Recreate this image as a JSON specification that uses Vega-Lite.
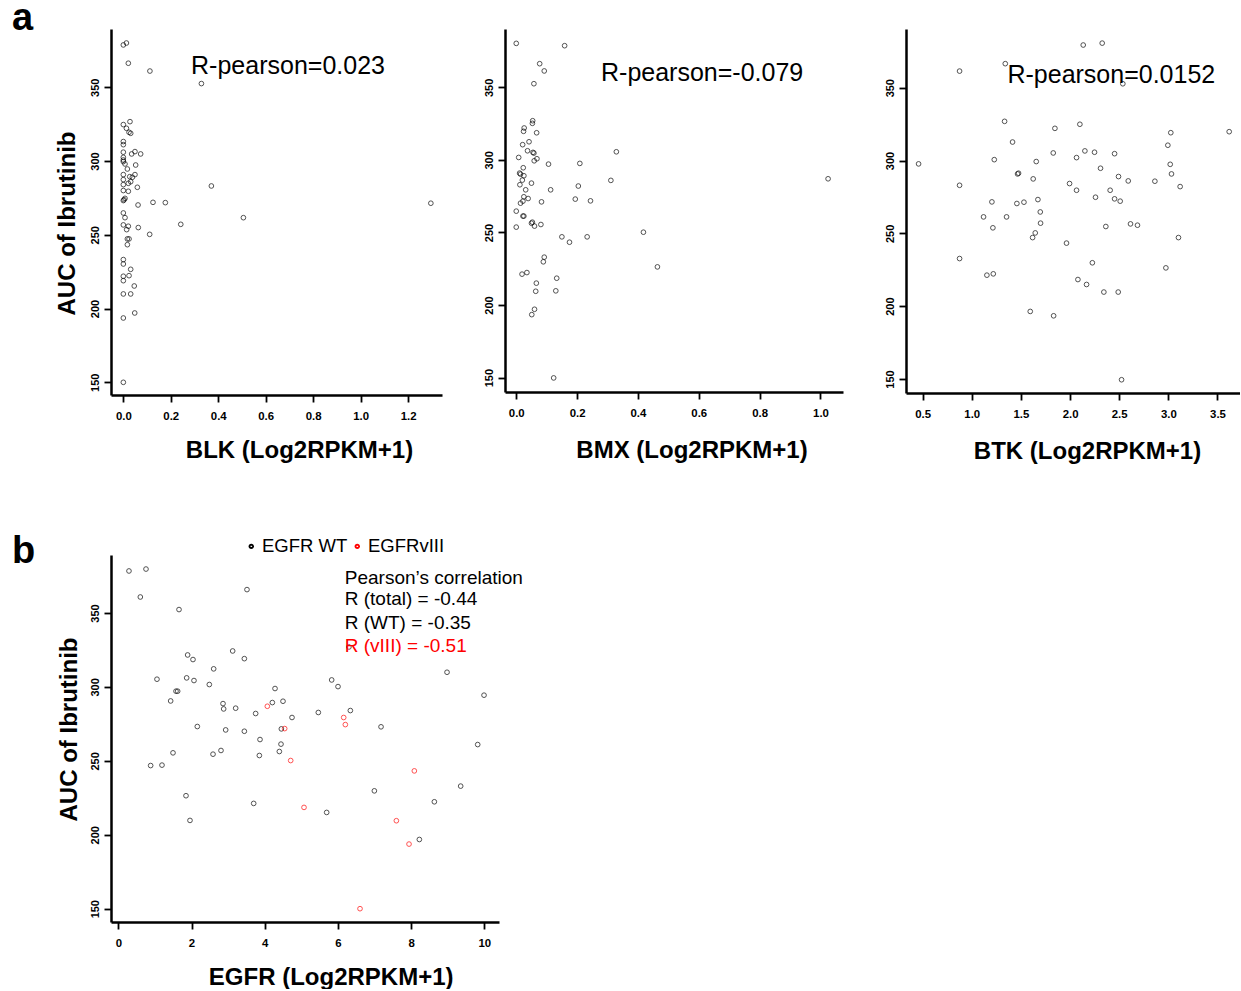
{
  "$schema": "https://vega.github.io/schema/vega-lite/v6.json",
  "background": "white",
  "padding": {"left": 12, "top": 0, "right": 0, "bottom": 0},
  "config": {
    "view": {"stroke": null},
    "font": "Liberation Sans",
    "axis": {
      "grid": false,
      "domainColor": "black",
      "domainWidth": 2.5,
      "tickColor": "black",
      "tickWidth": 1.8,
      "tickSize": 7,
      "labelFont": "Liberation Sans",
      "labelFontSize": 11,
      "labelFontWeight": "bold",
      "labelColor": "black",
      "titleFont": "Liberation Sans",
      "titleFontWeight": "bold",
      "titleColor": "black",
      "titleFontSize": 24
    },
    "axisX": {"labelFont": "Liberation Sans Narrow, Liberation Sans", "labelFontSize": 11.4, "labelPadding": 8, "titleBaseline": "alphabetic", "titleAlign": "center"},
    "axisY": {"labelAngle": -90, "labelPadding": 4, "titleBaseline": "alphabetic", "titleAlign": "center", "titleAngle": 270},
    "title": {"font": "Liberation Sans", "fontSize": 38, "fontWeight": "bold", "color": "black", "anchor": "start", "frame": "group", "baseline": "alphabetic", "offset": 0}
  },
  "datasets": {
    "blk": [
      {"x":0,"y":378.7},{"x":0.013,"y":380},{"x":0.021,"y":366.3},{"x":0.112,"y":361},{"x":0.329,"y":352.5},
      {"x":0,"y":324.7},{"x":0.028,"y":326.7},{"x":0.013,"y":322.2},{"x":0.024,"y":319.5},{"x":0.031,"y":318.8},
      {"x":0,"y":313.2},{"x":0,"y":311.1},{"x":0,"y":306},{"x":0.049,"y":306.4},{"x":0.073,"y":304.8},
      {"x":0.035,"y":304.8},{"x":0,"y":302.5},{"x":0,"y":300.7},{"x":0,"y":299.6},{"x":0.007,"y":298},
      {"x":0.052,"y":297.3},{"x":0.017,"y":294.6},{"x":0,"y":290.8},{"x":0.049,"y":290.8},{"x":0.027,"y":289.4},
      {"x":0.038,"y":289},{"x":0,"y":287.4},{"x":0.031,"y":286},{"x":0.021,"y":284.9},{"x":0,"y":284},
      {"x":0.059,"y":282.2},{"x":0.371,"y":283.1},{"x":0,"y":280},{"x":0.021,"y":279.5},{"x":0.003,"y":273.8},
      {"x":0.007,"y":274.7},{"x":0,"y":273.2},{"x":0.125,"y":272},{"x":0.177,"y":271.8},{"x":1.296,"y":271.4},
      {"x":0.062,"y":270.2},{"x":0,"y":264.8},{"x":0.007,"y":261.6},{"x":0.506,"y":261.6},{"x":0,"y":256.7},
      {"x":0.021,"y":255.8},{"x":0.014,"y":253.5},{"x":0.063,"y":254.9},{"x":0.242,"y":257.1},{"x":0.017,"y":247.2},
      {"x":0.024,"y":247.2},{"x":0.111,"y":250.3},{"x":0.017,"y":243.3},{"x":0,"y":233.2},{"x":0,"y":230.2},
      {"x":0.031,"y":226.6},{"x":0.024,"y":222.3},{"x":0,"y":221.9},{"x":0,"y":218.9},{"x":0.046,"y":215.3},
      {"x":0,"y":209.9},{"x":0.031,"y":209.9},{"x":0.048,"y":197},{"x":0,"y":193.6},{"x":0,"y":150}
    ],
    "bmx": [
      {"x":0,"y":380.3},{"x":0.159,"y":378.7},{"x":0.077,"y":366.3},{"x":0.092,"y":361.3},{"x":0.058,"y":352.5},
      {"x":0.054,"y":327},{"x":0.053,"y":325.2},{"x":0.026,"y":322},{"x":0.024,"y":319.7},{"x":0.067,"y":318.7},
      {"x":0.042,"y":312.5},{"x":0.021,"y":310.5},{"x":0.037,"y":306.3},{"x":0.055,"y":305.2},{"x":0.058,"y":304.7},
      {"x":0.329,"y":305.6},{"x":0.008,"y":301.7},{"x":0.068,"y":300.8},{"x":0.059,"y":299.4},{"x":0.106,"y":297.1},
      {"x":0.209,"y":297.6},{"x":0.023,"y":294.6},{"x":0.011,"y":290.9},{"x":0.014,"y":290.2},{"x":0.025,"y":289.1},
      {"x":0.02,"y":286.1},{"x":0.311,"y":285.9},{"x":1.025,"y":287},{"x":0.012,"y":282.9},{"x":0.05,"y":284},
      {"x":0.204,"y":282},{"x":0.031,"y":279.4},{"x":0.113,"y":279.4},{"x":0.039,"y":273.4},{"x":0.025,"y":274.6},
      {"x":0.194,"y":273},{"x":0.244,"y":271.8},{"x":0.022,"y":271.6},{"x":0.014,"y":270.2},{"x":0.083,"y":271.1},
      {"x":0,"y":264.7},{"x":0.022,"y":261.3},{"x":0.025,"y":261.3},{"x":0.053,"y":257.1},{"x":0.05,"y":256.4},
      {"x":0.06,"y":254.4},{"x":0.081,"y":255.5},{"x":0,"y":253.7},{"x":0.418,"y":250.2},{"x":0.15,"y":247},
      {"x":0.233,"y":247},{"x":0.175,"y":243.3},{"x":0.092,"y":233},{"x":0.089,"y":229.8},{"x":0.464,"y":226.3},
      {"x":0.035,"y":222.4},{"x":0.019,"y":221.3},{"x":0.066,"y":215.1},{"x":0.133,"y":218.5},{"x":0.064,"y":209.5},
      {"x":0.13,"y":209.8},{"x":0.06,"y":197.1},{"x":0.051,"y":193.4},{"x":0.123,"y":149.8}
    ],
    "btk": [
      {"x":0.459,"y":297.7},{"x":0.876,"y":361.4},{"x":0.876,"y":283},{"x":0.876,"y":232.7},{"x":1.341,"y":366.5},
      {"x":1.334,"y":326.9},{"x":1.415,"y":312.7},{"x":1.229,"y":300.6},{"x":1.466,"y":290.8},{"x":1.476,"y":291.3},
      {"x":1.205,"y":271.6},{"x":1.12,"y":261.3},{"x":1.354,"y":261.3},{"x":1.215,"y":253.8},{"x":1.154,"y":221.3},
      {"x":1.219,"y":222.2},{"x":1.459,"y":270.5},{"x":1.531,"y":271.4},{"x":1.625,"y":287.4},{"x":1.656,"y":299.3},
      {"x":1.673,"y":273.2},{"x":1.697,"y":264.7},{"x":1.7,"y":257},{"x":1.646,"y":250.3},{"x":1.619,"y":247.1},
      {"x":1.595,"y":196.4},{"x":1.846,"y":322.1},{"x":1.829,"y":305.2},{"x":1.833,"y":193.4},{"x":2.134,"y":379.3},
      {"x":2.327,"y":380.6},{"x":2.537,"y":352.7},{"x":2.1,"y":324.9},{"x":2.151,"y":306.6},{"x":2.249,"y":305.7},
      {"x":2.453,"y":304.7},{"x":2.066,"y":302},{"x":2.31,"y":294.7},{"x":2.493,"y":289},{"x":2.592,"y":286},
      {"x":1.995,"y":284.2},{"x":2.066,"y":279.6},{"x":2.408,"y":279.6},{"x":2.259,"y":274.8},{"x":2.453,"y":273.7},
      {"x":2.51,"y":272.1},{"x":1.964,"y":243.3},{"x":2.364,"y":254.7},{"x":2.615,"y":256.5},{"x":2.686,"y":255.6},
      {"x":2.227,"y":229.8},{"x":2.08,"y":218.3},{"x":2.168,"y":214.9},{"x":2.344,"y":209.7},{"x":2.49,"y":209.7},
      {"x":2.524,"y":149.5},{"x":2.863,"y":285.8},{"x":2.995,"y":310.5},{"x":3.025,"y":319.1},{"x":3.019,"y":297.4},
      {"x":3.032,"y":290.8},{"x":3.12,"y":282.1},{"x":3.103,"y":247.1},{"x":2.975,"y":226.3},{"x":3.619,"y":319.8}
    ],
    "egfr": [
      {"x":0.291,"y":378.4,"group":"EGFR WT"},{"x":0.756,"y":379.7,"group":"EGFR WT"},{"x":0.601,"y":360.8,"group":"EGFR WT"},
      {"x":1.658,"y":352.3,"group":"EGFR WT"},{"x":3.515,"y":365.8,"group":"EGFR WT"},{"x":3.124,"y":324.3,"group":"EGFR WT"},
      {"x":1.894,"y":321.6,"group":"EGFR WT"},{"x":2.04,"y":318.5,"group":"EGFR WT"},{"x":3.443,"y":319.1,"group":"EGFR WT"},
      {"x":2.605,"y":312.2,"group":"EGFR WT"},{"x":1.056,"y":305.2,"group":"EGFR WT"},{"x":1.867,"y":306.1,"group":"EGFR WT"},
      {"x":2.067,"y":304.3,"group":"EGFR WT"},{"x":2.486,"y":301.6,"group":"EGFR WT"},{"x":1.576,"y":297.1,"group":"EGFR WT"},
      {"x":1.621,"y":297.1,"group":"EGFR WT"},{"x":1.43,"y":290.5,"group":"EGFR WT"},{"x":4.281,"y":298.9,"group":"EGFR WT"},
      {"x":2.86,"y":288.7,"group":"EGFR WT"},{"x":2.878,"y":285.1,"group":"EGFR WT"},{"x":3.206,"y":285.6,"group":"EGFR WT"},
      {"x":4.208,"y":289.4,"group":"EGFR WT"},{"x":4.499,"y":290.3,"group":"EGFR WT"},{"x":3.752,"y":282,"group":"EGFR WT"},
      {"x":4.745,"y":279.3,"group":"EGFR WT"},{"x":2.158,"y":273.2,"group":"EGFR WT"},{"x":2.933,"y":270.9,"group":"EGFR WT"},
      {"x":3.443,"y":270,"group":"EGFR WT"},{"x":4.454,"y":271.6,"group":"EGFR WT"},{"x":3.871,"y":264.4,"group":"EGFR WT"},
      {"x":1.494,"y":255.4,"group":"EGFR WT"},{"x":2.587,"y":254.5,"group":"EGFR WT"},{"x":2.805,"y":257,"group":"EGFR WT"},
      {"x":3.853,"y":253.6,"group":"EGFR WT"},{"x":4.444,"y":261.3,"group":"EGFR WT"},{"x":4.399,"y":256.3,"group":"EGFR WT"},
      {"x":0.883,"y":246.8,"group":"EGFR WT"},{"x":1.193,"y":247.1,"group":"EGFR WT"},{"x":1.849,"y":226.4,"group":"EGFR WT"},
      {"x":1.958,"y":209.7,"group":"EGFR WT"},{"x":3.698,"y":221.2,"group":"EGFR WT"},{"x":5.464,"y":282.7,"group":"EGFR WT"},
      {"x":5.829,"y":304.7,"group":"EGFR WT"},{"x":6.002,"y":300.2,"group":"EGFR WT"},{"x":6.339,"y":284,"group":"EGFR WT"},
      {"x":5.692,"y":215.1,"group":"EGFR WT"},{"x":7.177,"y":273,"group":"EGFR WT"},{"x":6.995,"y":229.7,"group":"EGFR WT"},
      {"x":8.224,"y":196.8,"group":"EGFR WT"},{"x":8.634,"y":222.3,"group":"EGFR WT"},{"x":8.98,"y":309.9,"group":"EGFR WT"},
      {"x":9.353,"y":232.9,"group":"EGFR WT"},{"x":9.818,"y":261,"group":"EGFR WT"},{"x":9.991,"y":294.4,"group":"EGFR WT"},
      {"x":6.3,"y":327,"group":"EGFR WT"},
      {"x":4.071,"y":286.9,"group":"EGFRvIII"},{"x":4.545,"y":271.8,"group":"EGFRvIII"},{"x":4.709,"y":250.2,"group":"EGFRvIII"},
      {"x":5.073,"y":218.5,"group":"EGFRvIII"},{"x":6.157,"y":279.3,"group":"EGFRvIII"},{"x":6.202,"y":274.5,"group":"EGFRvIII"},
      {"x":8.087,"y":243.2,"group":"EGFRvIII"},{"x":7.596,"y":209.5,"group":"EGFRvIII"},{"x":7.942,"y":193.7,"group":"EGFRvIII"},
      {"x":6.603,"y":150,"group":"EGFRvIII"}
    ]
  },
  "bounds": "full",
  "spacing": 70,
  "resolve": {"scale": {"color": "independent"}, "legend": {"color": "independent"}},
  "vconcat": [
    {
      "bounds": "flush",
      "spacing": 63,
      "hconcat": [
        {
          "width": 331,
          "height": 366,
          "title": {"text": "a", "dx": -99, "dy": 13},
          "layer": [
            {
              "data": {"name": "blk"},
              "mark": {"type": "point", "shape": "circle", "filled": false, "size": 22, "strokeWidth": 0.9, "color": "black", "opacity": 0.75},
              "encoding": {
                "x": {"field": "x", "type": "quantitative", "scale": {"domain": [-0.052, 1.343], "nice": false, "zero": false},
                      "axis": {"values": [0, 0.2, 0.4, 0.6, 0.8, 1.0, 1.2], "format": ".1f", "title": "BLK (Log2RPKM+1)", "titleX": 188, "titleY": 62}},
                "y": {"field": "y", "type": "quantitative", "scale": {"domain": [141.4, 389.5], "nice": false, "zero": false},
                      "axis": {"values": [150, 200, 250, 300, 350], "title": "AUC of Ibrutinib", "titleX": -37, "titleY": 194}}
              }
            },
            {
              "data": {"values": [{"x": 0.694, "y": 359, "label": "R-pearson=0.023"}]},
              "mark": {"type": "text", "fontSize": 25, "align": "center", "baseline": "alphabetic", "color": "black"},
              "encoding": {
                "x": {"field": "x", "type": "quantitative"},
                "y": {"field": "y", "type": "quantitative"},
                "text": {"field": "label"}
              }
            }
          ]
        },
        {
          "width": 338,
          "height": 363,
          "layer": [
            {
              "data": {"name": "bmx"},
              "mark": {"type": "point", "shape": "circle", "filled": false, "size": 22, "strokeWidth": 0.9, "color": "black", "opacity": 0.75},
              "encoding": {
                "x": {"field": "x", "type": "quantitative", "scale": {"domain": [-0.037, 1.074], "nice": false, "zero": false},
                      "axis": {"values": [0, 0.2, 0.4, 0.6, 0.8, 1.0], "format": ".1f", "title": "BMX (Log2RPKM+1)", "titleX": 186.5, "titleY": 65}},
                "y": {"field": "y", "type": "quantitative", "scale": {"domain": [140.1, 390.2], "nice": false, "zero": false},
                      "axis": {"values": [150, 200, 250, 300, 350], "title": null}}
              }
            },
            {
              "data": {"values": [{"x": 0.611, "y": 354.6, "label": "R-pearson=-0.079"}]},
              "mark": {"type": "text", "fontSize": 25, "align": "center", "baseline": "alphabetic", "color": "black"},
              "encoding": {
                "x": {"field": "x", "type": "quantitative"},
                "y": {"field": "y", "type": "quantitative"},
                "text": {"field": "label"}
              }
            }
          ]
        },
        {
          "width": 334,
          "height": 364,
          "layer": [
            {
              "data": {"name": "btk"},
              "mark": {"type": "point", "shape": "circle", "filled": false, "size": 22, "strokeWidth": 0.9, "color": "black", "opacity": 0.75},
              "encoding": {
                "x": {"field": "x", "type": "quantitative", "scale": {"domain": [0.331, 3.729], "nice": false, "zero": false},
                      "axis": {"values": [0.5, 1.0, 1.5, 2.0, 2.5, 3.0, 3.5], "format": ".1f", "title": "BTK (Log2RPKM+1)", "titleX": 181, "titleY": 65}},
                "y": {"field": "y", "type": "quantitative", "scale": {"domain": [140.4, 390.3], "nice": false, "zero": false},
                      "axis": {"values": [150, 200, 250, 300, 350], "title": null}}
              }
            },
            {
              "data": {"values": [{"x": 2.42, "y": 353, "label": "R-pearson=0.0152"}]},
              "mark": {"type": "text", "fontSize": 25, "align": "center", "baseline": "alphabetic", "color": "black"},
              "encoding": {
                "x": {"field": "x", "type": "quantitative"},
                "y": {"field": "y", "type": "quantitative"},
                "text": {"field": "label"}
              }
            }
          ]
        }
      ]
    },
    {
      "width": 388,
      "height": 367,
      "title": {"text": "b", "dx": -99, "dy": 38},
      "layer": [
        {
          "data": {"name": "egfr"},
          "mark": {"type": "point", "shape": "circle", "filled": false, "size": 22, "strokeWidth": 0.9, "opacity": 0.75},
          "encoding": {
            "x": {"field": "x", "type": "quantitative", "scale": {"domain": [-0.2, 10.4], "nice": false, "zero": false},
                  "axis": {"values": [0, 2, 4, 6, 8, 10], "format": "d", "title": "EGFR (Log2RPKM+1)", "titleX": 219.7, "titleY": 62}},
            "y": {"field": "y", "type": "quantitative", "scale": {"domain": [141.0, 389.2], "nice": false, "zero": false},
                  "axis": {"values": [150, 200, 250, 300, 350], "title": "AUC of Ibrutinib", "titleX": -35, "titleY": 174}},
            "color": {
              "field": "group", "type": "nominal",
              "scale": {"domain": ["EGFR WT", "EGFRvIII"], "range": ["black", "red"]},
              "legend": {
                "title": null, "orient": "none", "legendX": 131, "legendY": -18, "direction": "horizontal", "columns": 2,
                "symbolType": "circle", "symbolSize": 12, "symbolStrokeWidth": 2, "symbolOpacity": 1,
                "labelFont": "Liberation Sans", "labelFontSize": 18.5, "labelOffset": 1.5, "columnPadding": -6.5, "padding": 0, "labelLimit": 300,
                "encode": {"labels": {"update": {"fill": {"signal": "datum.value === 'EGFRvIII' ? 'red' : 'black'"}, "dy": {"value": 9.5}}}}
              }
            }
          }
        },
        {
          "data": {"values": [
            {"x": 6.186, "y": 369.6, "label": "Pearson’s correlation", "c": "black"},
            {"x": 6.186, "y": 355.4, "label": "R (total) = -0.44", "c": "black"},
            {"x": 6.186, "y": 339.2, "label": "R (WT) = -0.35", "c": "black"},
            {"x": 6.186, "y": 323.4, "label": "R (vIII) = -0.51", "c": "red"}
          ]},
          "mark": {"type": "text", "fontSize": 19, "align": "left", "baseline": "alphabetic"},
          "encoding": {
            "x": {"field": "x", "type": "quantitative"},
            "y": {"field": "y", "type": "quantitative"},
            "text": {"field": "label"},
            "fill": {"field": "c", "type": "nominal", "scale": null}
          }
        }
      ]
    }
  ]
}
